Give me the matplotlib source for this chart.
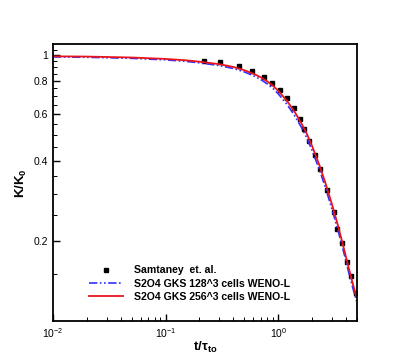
import numpy as np
import matplotlib.pyplot as plt
from matplotlib.ticker import FixedLocator, NullFormatter, FixedFormatter

plt.rcParams['font.family'] = ['Liberation Sans', 'DejaVu Sans']
plt.rcParams['mathtext.fontset'] = 'custom'
plt.rcParams['mathtext.rm'] = 'Liberation Sans'
plt.rcParams['mathtext.it'] = 'Liberation Sans:italic'
plt.rcParams['mathtext.bf'] = 'Liberation Sans:bold'

# Samtaney et al. reference data
t_ref = [0.22, 0.303, 0.446, 0.58, 0.754, 0.886, 1.04, 1.20, 1.38, 1.56, 1.69,
         1.87, 2.11, 2.34, 2.69, 3.10, 3.36, 3.72, 4.11, 4.46, 4.93]
k_ref = [0.949, 0.941, 0.909, 0.871, 0.827, 0.785, 0.739, 0.689, 0.632, 0.574, 0.527,
         0.475, 0.421, 0.373, 0.311, 0.257, 0.222, 0.196, 0.167, 0.148, 0.128]

# GKS 256^3
t_256 = [0.01, 0.02, 0.05, 0.1, 0.15, 0.2, 0.3, 0.4, 0.5, 0.6, 0.7, 0.8, 0.9, 1.0,
         1.2, 1.4, 1.6, 1.8, 2.0, 2.3, 2.6, 3.0, 3.4, 3.8, 4.2, 4.6, 4.95]
k_256 = [0.99, 0.988, 0.98, 0.968, 0.957, 0.945, 0.925, 0.903, 0.878, 0.852, 0.826,
         0.797, 0.767, 0.735, 0.672, 0.612, 0.556, 0.505, 0.455, 0.39, 0.335, 0.275,
         0.228, 0.19, 0.16, 0.138, 0.123]

# GKS 128^3
t_128 = [0.01, 0.02, 0.05, 0.1, 0.15, 0.2, 0.3, 0.4, 0.5, 0.6, 0.7, 0.8, 0.9, 1.0,
         1.2, 1.4, 1.6, 1.8, 2.0, 2.3, 2.6, 3.0, 3.4, 3.8, 4.2, 4.6, 4.95]
k_128 = [0.985, 0.982, 0.973, 0.96, 0.948, 0.936, 0.914, 0.891, 0.865, 0.838, 0.81,
         0.78, 0.749, 0.716, 0.652, 0.592, 0.537, 0.487, 0.438, 0.375, 0.322, 0.264,
         0.219, 0.183, 0.154, 0.133, 0.119]

fig = plt.figure(figsize=(4.07, 3.62), dpi=100)
ax = fig.add_axes([0.130, 0.113, 0.747, 0.765])

ax.plot(t_ref, k_ref, 's', color='black', markersize=3.4, linestyle='none',
        label='Samtaney  et. al.')
ax.plot(t_128, k_128, color='#3030ff', lw=1.2,
        linestyle=(0, (5, 1.5, 1, 1.5, 1, 1.5)), label='S2O4 GKS 128^3 cells WENO-L')
ax.plot(t_256, k_256, color='#e8141c', lw=1.3, label='S2O4 GKS 256^3 cells WENO-L')

ax.set_xscale('log')
ax.set_yscale('log')
ax.set_xlim(0.01, 5.0)
ax.set_ylim(0.1, 1.1)

yt = [0.2, 0.4, 0.6, 0.8, 1.0]
ax.yaxis.set_major_locator(FixedLocator(yt))
ax.yaxis.set_major_formatter(FixedFormatter(['0.2', '0.4', '0.6', '0.8', '1']))
ax.yaxis.set_minor_locator(FixedLocator([0.15, 0.25, 0.3, 0.35, 0.45, 0.5, 0.55,
                                         0.65, 0.7, 0.75, 0.85, 0.9, 0.95, 1.05]))
ax.yaxis.set_minor_formatter(NullFormatter())

ax.tick_params(which='both', direction='in', top=False, right=False, labelsize=7.5)
ax.tick_params(which='major', length=5, width=1)
ax.tick_params(which='minor', length=3, width=0.7)
for s in ax.spines.values():
    s.set_linewidth(1.3)

ax.set_xlabel(r'$\mathbf{t/\tau_{to}}$', fontsize=9.5, labelpad=0)
ax.set_ylabel(r'$\mathbf{K/K_0}$', fontsize=9.5, labelpad=3)

leg = ax.legend(loc='lower left', bbox_to_anchor=(0.12, 0.07), frameon=False,
                prop={'size': 7.6, 'weight': 'bold'}, handlelength=3.2,
                handletextpad=1.0, labelspacing=0.3, borderpad=0, borderaxespad=0)

fig.savefig('out.png', dpi=100)
